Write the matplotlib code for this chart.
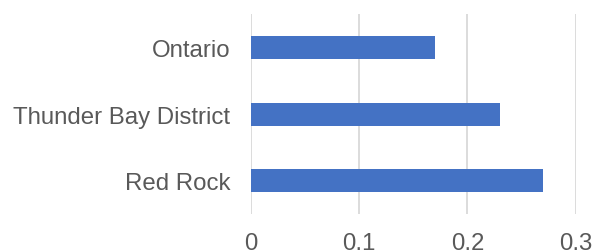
import matplotlib.pyplot as plt

##-------------------------------------------------------------
categories = ['Red Rock', 'Thunder Bay District', 'Ontario']
values = [0.27, 0.23, 0.17]
xticks = [0, 0.1, 0.2, 0.3]
xticklabels = ['0', '0.1', '0.2', '0.3']
##-------------------------------------------------------------

plt.rcParams['font.family'] = ['Liberation Sans', 'DejaVu Sans']

fig = plt.figure(figsize=(5.95, 2.51), dpi=100)
ax = fig.add_axes([0.4218, 0.1434, 0.5458, 0.7968])

ax.barh(range(len(categories)), values, height=0.345, color='#4472C4', zorder=3)

ax.set_xlim(0, 0.3)
ax.set_ylim(-0.5, len(categories) - 0.5)
ax.set_xticks(xticks)
ax.set_xticklabels(xticklabels)
ax.set_yticks(range(len(categories)))
ax.set_yticklabels(categories)

ax.grid(axis='x', color='#D9D9D9', linewidth=1.3, zorder=0)
for s in ax.spines.values():
    s.set_visible(False)
ax.tick_params(axis='both', length=0, labelsize=17.3, colors='#595959')
ax.tick_params(axis='x', pad=13)
ax.tick_params(axis='y', pad=15)

fig.savefig('out.png', dpi=100)
